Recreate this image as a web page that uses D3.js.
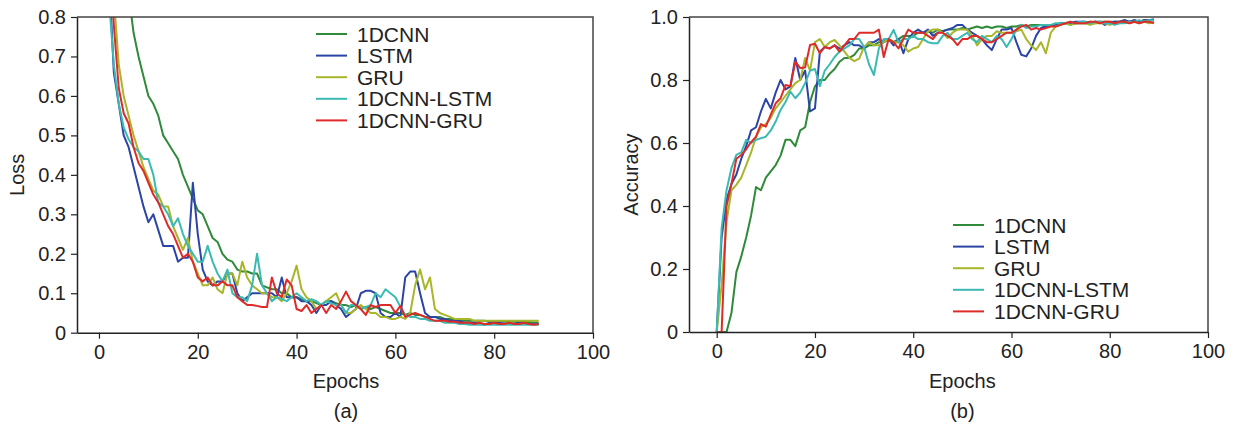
<!DOCTYPE html>
<html lang="en">
<head>
<meta charset="UTF-8">
<title>Loss and accuracy</title>
<style>
  body { margin: 0; background: #fff; }
  text { font-family: "Liberation Sans", Arial, sans-serif; fill: #222; }
</style>
</head>
<body>
<svg id="chart" width="1235" height="431"></svg>
<script src="https://d3js.org/d3.v7.min.js"></script>
<script>
// series names and colours
const names = ["1DCNN", "LSTM", "GRU", "1DCNN-LSTM", "1DCNN-GRU"];
const colors = ["#2f8a3a", "#2b44a6", "#a8b62a", "#3bbab2", "#df2a2a"];
const xTicks = [0, 20, 40, 60, 80, 100];
const lossTicks = [0, 0.1, 0.2, 0.3, 0.4, 0.5, 0.6, 0.7, 0.8];
const accTicks = [0, 0.2, 0.4, 0.6, 0.8, 1.0];

// loss per epoch (0..89)
const cnnLoss = [2.0,1.7,1.4,1.2,1.05,0.95,0.86,0.76,0.70,0.65,
  0.60,0.58,0.55,0.50,0.48,0.46,0.44,0.40,0.37,0.34,
  0.31,0.30,0.27,0.24,0.23,0.20,0.185,0.18,0.16,0.155,
  0.155,0.15,0.15,0.12,0.115,0.11,0.11,0.10,0.10,0.09,
  0.09,0.085,0.08,0.08,0.075,0.07,0.08,0.08,0.075,0.07,
  0.07,0.065,0.07,0.06,0.065,0.06,0.065,0.06,0.055,0.05,
  0.05,0.05,0.045,0.05,0.045,0.045,0.04,0.04,0.04,0.04,
  0.035,0.035,0.032,0.03,0.03,0.03,0.03,0.03,0.03,0.028,
  0.028,0.028,0.028,0.028,0.028,0.027,0.027,0.027,0.026,0.026];
const lstmLoss = [2.5,1.4,0.92,0.66,0.58,0.50,0.47,0.42,0.37,0.32,
  0.28,0.30,0.26,0.22,0.22,0.22,0.18,0.19,0.19,0.38,
  0.25,0.16,0.13,0.12,0.13,0.13,0.15,0.15,0.10,0.08,
  0.09,0.10,0.10,0.10,0.10,0.10,0.09,0.14,0.09,0.09,
  0.09,0.08,0.08,0.07,0.05,0.07,0.07,0.08,0.07,0.06,
  0.04,0.05,0.06,0.10,0.106,0.106,0.10,0.05,0.04,0.04,
  0.05,0.04,0.14,0.155,0.155,0.10,0.05,0.04,0.04,0.035,
  0.035,0.03,0.03,0.03,0.025,0.025,0.025,0.025,0.02,0.025,
  0.025,0.025,0.022,0.022,0.022,0.025,0.022,0.022,0.022,0.022];
const gruLoss = [2.2,1.5,1.1,0.85,0.68,0.60,0.55,0.50,0.46,0.42,
  0.39,0.36,0.35,0.32,0.32,0.27,0.24,0.21,0.24,0.18,
  0.15,0.12,0.12,0.14,0.11,0.10,0.15,0.15,0.12,0.18,
  0.14,0.12,0.11,0.10,0.10,0.09,0.09,0.08,0.10,0.13,
  0.17,0.11,0.09,0.08,0.06,0.07,0.08,0.09,0.10,0.07,
  0.05,0.05,0.06,0.07,0.06,0.05,0.05,0.04,0.04,0.035,
  0.035,0.04,0.035,0.05,0.12,0.16,0.11,0.14,0.06,0.05,
  0.045,0.04,0.035,0.035,0.035,0.035,0.03,0.03,0.03,0.03,
  0.03,0.03,0.03,0.03,0.03,0.03,0.03,0.03,0.03,0.03];
const cnnLstmLoss = [2.3,1.3,0.85,0.68,0.58,0.52,0.49,0.47,0.46,0.44,
  0.44,0.40,0.33,0.32,0.30,0.27,0.29,0.25,0.22,0.20,
  0.18,0.18,0.22,0.18,0.15,0.13,0.16,0.10,0.09,0.09,
  0.08,0.12,0.20,0.12,0.10,0.08,0.09,0.085,0.08,0.09,
  0.10,0.09,0.08,0.085,0.08,0.07,0.08,0.075,0.07,0.07,
  0.05,0.07,0.07,0.06,0.065,0.07,0.10,0.09,0.11,0.10,
  0.09,0.066,0.045,0.04,0.04,0.035,0.035,0.03,0.03,0.03,
  0.025,0.025,0.025,0.022,0.022,0.02,0.02,0.02,0.02,0.02,
  0.02,0.02,0.02,0.02,0.02,0.02,0.02,0.02,0.02,0.02];
const cnnGruLoss = [2.4,1.5,1.0,0.78,0.62,0.556,0.53,0.47,0.43,0.41,
  0.38,0.35,0.33,0.30,0.27,0.25,0.22,0.19,0.20,0.18,
  0.14,0.13,0.14,0.12,0.12,0.13,0.12,0.12,0.09,0.08,
  0.07,0.07,0.068,0.065,0.065,0.14,0.10,0.09,0.135,0.12,
  0.06,0.055,0.07,0.05,0.06,0.07,0.05,0.07,0.06,0.08,
  0.104,0.08,0.07,0.06,0.045,0.07,0.065,0.07,0.07,0.07,
  0.05,0.068,0.04,0.045,0.05,0.045,0.04,0.035,0.03,0.03,
  0.03,0.028,0.028,0.025,0.025,0.025,0.022,0.025,0.022,0.022,
  0.025,0.022,0.022,0.025,0.022,0.022,0.025,0.022,0.02,0.022];

// accuracy per epoch (0..89)
const cnnAcc = [0,0,0,0.06,0.19,0.24,0.30,0.37,0.46,0.45,
  0.49,0.51,0.53,0.56,0.61,0.61,0.59,0.64,0.65,0.73,
  0.78,0.80,0.80,0.82,0.835,0.858,0.87,0.87,0.88,0.90,
  0.90,0.91,0.91,0.92,0.92,0.93,0.92,0.93,0.94,0.94,
  0.94,0.95,0.95,0.955,0.95,0.96,0.955,0.96,0.96,0.96,
  0.965,0.96,0.965,0.97,0.965,0.97,0.965,0.97,0.97,0.965,
  0.97,0.97,0.975,0.97,0.975,0.975,0.975,0.97,0.975,0.975,
  0.98,0.98,0.975,0.98,0.98,0.98,0.985,0.98,0.985,0.985,
  0.985,0.985,0.985,0.99,0.985,0.99,0.985,0.99,0.99,0.99];
const lstmAcc = [0,0.30,0.42,0.47,0.50,0.55,0.59,0.64,0.65,0.70,
  0.74,0.71,0.76,0.80,0.77,0.78,0.87,0.80,0.83,0.70,
  0.71,0.89,0.905,0.90,0.91,0.90,0.91,0.92,0.91,0.91,
  0.90,0.92,0.92,0.93,0.92,0.93,0.91,0.93,0.885,0.93,
  0.95,0.96,0.95,0.96,0.94,0.95,0.955,0.96,0.965,0.975,
  0.975,0.96,0.95,0.94,0.93,0.91,0.895,0.93,0.96,0.96,
  0.965,0.92,0.88,0.875,0.90,0.94,0.965,0.97,0.975,0.975,
  0.98,0.98,0.98,0.985,0.985,0.985,0.98,0.985,0.985,0.975,
  0.98,0.985,0.985,0.99,0.985,0.99,0.985,0.99,0.99,0.993];
const gruAcc = [0,0.15,0.35,0.45,0.467,0.49,0.53,0.57,0.62,0.65,
  0.66,0.68,0.71,0.73,0.75,0.77,0.79,0.80,0.87,0.83,
  0.92,0.93,0.905,0.92,0.927,0.91,0.89,0.87,0.86,0.868,
  0.905,0.92,0.91,0.91,0.92,0.93,0.92,0.92,0.91,0.89,
  0.90,0.905,0.93,0.955,0.96,0.96,0.95,0.933,0.95,0.96,
  0.96,0.96,0.94,0.91,0.93,0.94,0.94,0.955,0.95,0.95,
  0.95,0.955,0.96,0.93,0.91,0.895,0.92,0.885,0.95,0.97,
  0.975,0.98,0.975,0.98,0.98,0.98,0.975,0.98,0.98,0.98,
  0.975,0.98,0.98,0.985,0.98,0.985,0.98,0.985,0.98,0.985];
const cnnLstmAcc = [0,0.33,0.45,0.52,0.562,0.57,0.61,0.60,0.61,0.615,
  0.62,0.64,0.668,0.705,0.73,0.763,0.742,0.76,0.79,0.83,
  0.835,0.78,0.83,0.85,0.873,0.89,0.90,0.91,0.93,0.93,
  0.905,0.85,0.816,0.90,0.93,0.93,0.959,0.92,0.93,0.93,
  0.94,0.93,0.93,0.92,0.917,0.917,0.94,0.95,0.93,0.93,
  0.94,0.95,0.93,0.92,0.94,0.93,0.92,0.94,0.93,0.905,
  0.93,0.96,0.975,0.965,0.97,0.97,0.975,0.975,0.975,0.98,
  0.98,0.98,0.985,0.98,0.985,0.985,0.98,0.985,0.985,0.98,
  0.98,0.975,0.98,0.98,0.985,0.985,0.99,0.985,0.99,0.99];
const cnnGruAcc = [0,0,0.40,0.47,0.55,0.562,0.58,0.603,0.62,0.66,
  0.652,0.69,0.726,0.742,0.784,0.78,0.858,0.838,0.84,0.911,
  0.915,0.885,0.905,0.90,0.91,0.89,0.91,0.93,0.93,0.95,
  0.95,0.95,0.95,0.96,0.873,0.93,0.92,0.90,0.93,0.96,
  0.95,0.95,0.95,0.94,0.93,0.95,0.95,0.94,0.93,0.911,
  0.93,0.93,0.94,0.94,0.93,0.92,0.92,0.93,0.94,0.95,
  0.95,0.96,0.97,0.975,0.96,0.965,0.96,0.965,0.97,0.97,
  0.975,0.98,0.985,0.98,0.98,0.98,0.985,0.985,0.98,0.985,
  0.985,0.98,0.985,0.985,0.98,0.985,0.98,0.985,0.985,0.98];

const lossSeries = [cnnLoss, lstmLoss, gruLoss, cnnLstmLoss, cnnGruLoss];
const accSeries = [cnnAcc, lstmAcc, gruAcc, cnnLstmAcc, cnnGruAcc];

const svg = d3.select("#chart");

function panel(cfg) {
  const x = d3.scaleLinear().domain(cfg.xDomain).range([cfg.left, cfg.right]);
  const y = d3.scaleLinear().domain(cfg.yDomain).range([cfg.bottom, cfg.top]);
  const g = svg.append("g");

  g.append("clipPath").attr("id", cfg.id + "-clip")
    .append("rect")
    .attr("x", cfg.left).attr("y", cfg.top)
    .attr("width", cfg.right - cfg.left).attr("height", cfg.bottom - cfg.top);

  const line = d3.line().x((d, i) => x(i)).y(d => y(d));
  g.append("g").attr("clip-path", `url(#${cfg.id}-clip)`)
    .selectAll("path")
    .data(cfg.series)
    .join("path")
    .attr("fill", "none")
    .attr("stroke", (d, i) => colors[i])
    .attr("stroke-width", 2)
    .attr("stroke-linejoin", "round")
    .attr("d", line);

  // frame: top and right edges
  g.append("path")
    .attr("d", `M${cfg.left},${cfg.top}H${cfg.right}V${cfg.bottom}`)
    .attr("fill", "none").attr("stroke", "#444").attr("stroke-width", 1.5);

  const xAxis = d3.axisBottom(x).tickValues(xTicks).tickSize(6).tickSizeOuter(0).tickPadding(6);
  g.append("g")
    .attr("transform", `translate(0,${cfg.bottom})`)
    .call(xAxis)
    .call(a => a.select(".domain").attr("stroke", "#222").attr("stroke-width", 1.5))
    .call(a => a.selectAll(".tick line").attr("stroke", "#222").attr("stroke-width", 1.2))
    .call(a => a.selectAll("text").attr("font-size", 20).attr("font-family", null).attr("fill", "#222"));

  const yAxis = d3.axisLeft(y).tickValues(cfg.yTicks).tickFormat(cfg.yFormat).tickSize(6).tickSizeOuter(0).tickPadding(5);
  g.append("g")
    .attr("transform", `translate(${cfg.left},0)`)
    .call(yAxis)
    .call(a => a.select(".domain").attr("stroke", "#222").attr("stroke-width", 1.5))
    .call(a => a.selectAll(".tick line").attr("stroke", "#222").attr("stroke-width", 1.2))
    .call(a => a.selectAll("text").attr("font-size", 20).attr("font-family", null).attr("fill", "#222"));

  const cx = x(50);
  g.append("text").attr("x", cx).attr("y", 388).attr("text-anchor", "middle")
    .attr("font-size", 20).text("Epochs");
  g.append("text").attr("x", cx).attr("y", 418).attr("text-anchor", "middle")
    .attr("font-size", 20).text(cfg.caption);
  g.append("text")
    .attr("transform", `translate(${cfg.labelX},${(cfg.top + cfg.bottom) / 2}) rotate(-90)`)
    .attr("text-anchor", "middle").attr("font-size", 20).text(cfg.yLabel);

  // legend
  const lg = g.append("g").attr("transform", `translate(${cfg.legendX},${cfg.legendY})`);
  const row = lg.selectAll("g").data(names).join("g")
    .attr("transform", (d, i) => `translate(0,${i * 21.6})`);
  row.append("line").attr("x1", 0).attr("x2", 31)
    .attr("stroke", (d, i) => colors[i]).attr("stroke-width", 2);
  row.append("text").attr("x", 41).attr("dy", "0.36em")
    .attr("font-size", 21).text(d => d);
}

panel({
  id: "loss", series: lossSeries,
  left: 77, right: 593, top: 17, bottom: 332.7,
  xDomain: [-4.45, 100], yDomain: [0, 0.8],
  yTicks: lossTicks, yFormat: d => d === 0 ? "0" : d3.format(".1f")(d),
  yLabel: "Loss", labelX: 24, caption: "(a)",
  legendX: 316, legendY: 34
});

panel({
  id: "acc", series: accSeries,
  left: 689, right: 1208, top: 17, bottom: 332,
  xDomain: [-5.64, 100], yDomain: [0, 1],
  yTicks: accTicks, yFormat: d => d === 0 ? "0" : d3.format(".1f")(d),
  yLabel: "Accuracy", labelX: 638, caption: "(b)",
  legendX: 953, legendY: 225
});
</script>
</body>
</html>
